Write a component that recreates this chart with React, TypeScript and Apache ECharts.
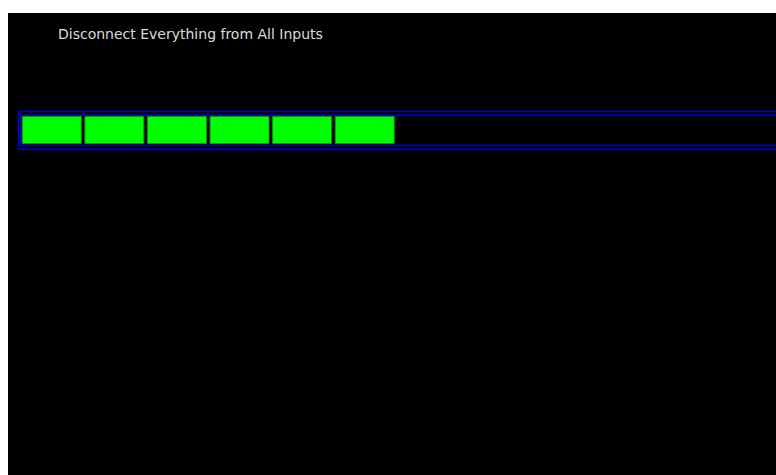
import React, { useEffect, useRef } from "react";
import * as echarts from "echarts";

const titleText = "Disconnect Everything from All Inputs";
const segments = ["1", "2", "3", "4", "5", "6", "7", "8", "9", "10", "11", "12"];
const filled = [1, 1, 1, 1, 1, 1, null, null, null, null, null, null];

export default function App() {
  const ref = useRef<HTMLDivElement>(null);
  useEffect(() => {
    if (!ref.current) return;
    const chart = echarts.init(ref.current, null, { renderer: "svg" });
    chart.setOption({
      animation: false,
      backgroundColor: "#000000",
      title: {
        text: titleText,
        left: 45,
        top: 9,
        textStyle: { color: "#dcdcdc", fontSize: 14, fontWeight: "normal", fontFamily: "DejaVu Sans" },
      },
      graphic: [
        {
          type: "rect",
          shape: { x: 10.5, y: 98.5, width: 800, height: 38 },
          style: { fill: "none", stroke: "#0000d8", lineWidth: 1.5 },
        },
        {
          type: "rect",
          shape: { x: 12.5, y: 102.5, width: 800, height: 30 },
          style: { fill: "none", stroke: "#0000d8", lineWidth: 1.5 },
        },
      ],
      grid: { left: 12.5, top: 103, width: 751, height: 28 },
      xAxis: {
        type: "category",
        data: segments,
        show: false,
      },
      yAxis: { type: "value", min: 0, max: 1, show: false },
      series: [
        {
          type: "bar",
          data: filled,
          barWidth: 60,
          itemStyle: { color: "#00ff00", borderColor: "#109010", borderWidth: 1 },
        },
      ],
    });
    return () => chart.dispose();
  }, []);
  return (
    <div
      ref={ref}
      style={{ position: "absolute", left: 8, top: 13, width: 768, height: 462 }}
    />
  );
}
